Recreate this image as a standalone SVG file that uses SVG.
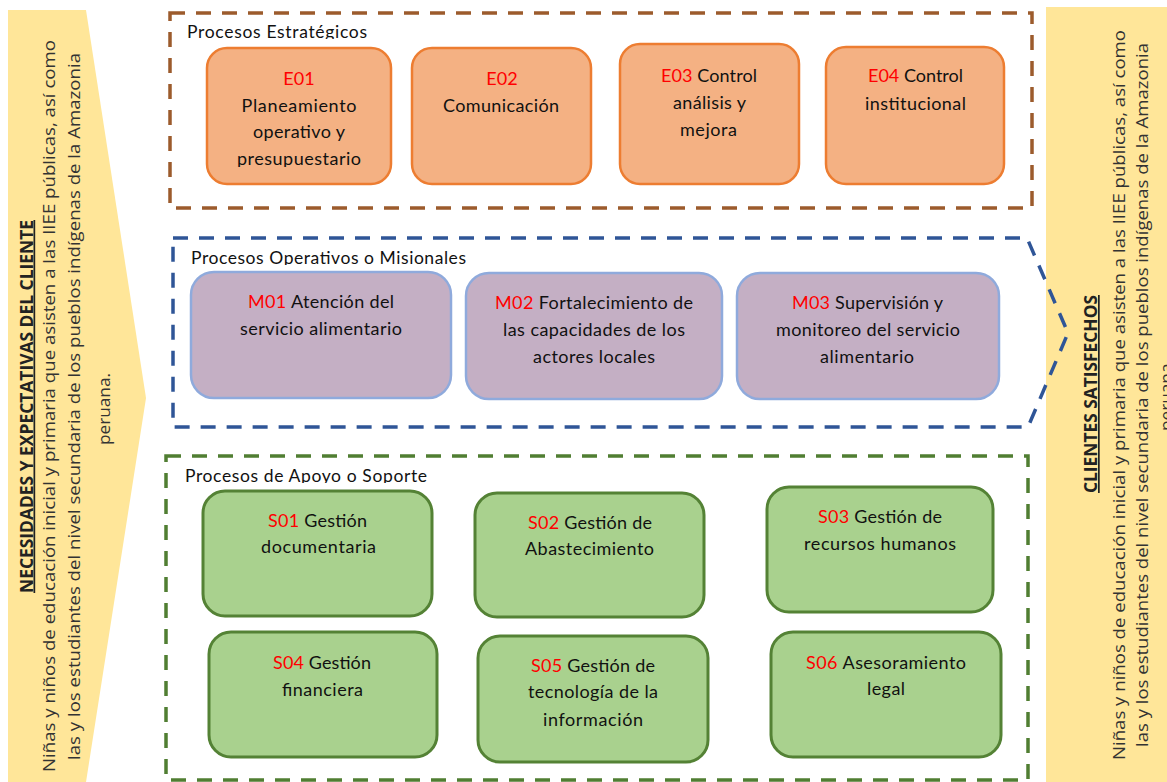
<svg xmlns="http://www.w3.org/2000/svg" width="1167" height="782" viewBox="0 0 1167 782">
<style>
.t{font-family:Lato,"Liberation Sans",sans-serif;font-size:18px;fill:#111;text-anchor:middle}
.r{fill:#FF0000}
.ttl{font-family:Lato,"Liberation Sans",sans-serif;font-size:17.5px;fill:#111}
.rot{font-family:"Open Sans","Liberation Sans",sans-serif;font-size:16px;fill:#333;text-anchor:middle}
.hd{font-family:"Open Sans","Liberation Sans",sans-serif;font-size:17px;font-weight:bold;fill:#222;text-anchor:middle;text-decoration:underline}
.sec{fill:none;stroke-width:3.5;stroke-dasharray:15 11}
.e{fill:#F4B183;stroke:#ED7D31;stroke-width:2.5}
.m{fill:#C4AFC4;stroke:#8FAADC;stroke-width:2.5}
.s{fill:#A9D18E;stroke:#548235;stroke-width:3}
</style>
<defs>
<clipPath id="c1"><rect x="180" y="15" width="300" height="24"/></clipPath>
<clipPath id="c2"><rect x="180" y="240" width="400" height="25"/></clipPath>
<clipPath id="c3"><rect x="175" y="458" width="400" height="25"/></clipPath>
<clipPath id="c4"><rect x="207" y="48" width="184" height="119"/></clipPath>
</defs>

<g id="clientes-necesidades">
<polygon points="8,10 86,10 146,398 86,782 8,782" fill="#FFE699"/>
<g transform="rotate(-90)">
<text class="hd" x="-406.5" y="32.5" textLength="373" lengthAdjust="spacingAndGlyphs">NECESIDADES Y EXPECTATIVAS DEL CLIENTE</text>
<text class="rot" x="-406" y="55" textLength="732" lengthAdjust="spacingAndGlyphs">Niñas y niños de educación inicial y primaria que asisten a las IIEE públicas, así como</text>
<text class="rot" x="-406.5" y="80" textLength="707" lengthAdjust="spacingAndGlyphs">las y los estudiantes del nivel secundaria de los pueblos indígenas de la Amazonia</text>
<text class="rot" x="-409" y="110" textLength="72" lengthAdjust="spacingAndGlyphs">peruana.</text>
</g>
</g>

<g id="clientes-satisfechos">
<rect x="1046" y="7" width="121" height="775" fill="#FFE699"/>
<g transform="rotate(-90)">
<text class="hd" x="-394" y="1097" textLength="198" lengthAdjust="spacingAndGlyphs">CLIENTES SATISFECHOS</text>
<text class="rot" x="-395" y="1125" textLength="730" lengthAdjust="spacingAndGlyphs">Niñas y niños de educación inicial y primaria que asisten a las IIEE públicas, así como</text>
<text class="rot" x="-395" y="1148" textLength="704" lengthAdjust="spacingAndGlyphs">las y los estudiantes del nivel secundaria de los pueblos indígenas de la Amazonia</text>
<text class="rot" x="-395" y="1172" textLength="72" lengthAdjust="spacingAndGlyphs">peruana.</text>
</g>
</g>

<g id="procesos-estrategicos">
<rect class="sec" x="170" y="13" width="862" height="195" stroke="#9C5B2C"/>
<text class="ttl" x="187" y="38" textLength="180" clip-path="url(#c1)">Procesos Estratégicos</text>
</g>
<g id="E01">
<rect class="e" x="207" y="48" width="184" height="136" rx="20"/>
<g clip-path="url(#c4)">
<text class="t" x="299" y="85"><tspan class="r">E01</tspan></text>
<text class="t" x="299" y="112" textLength="115">Planeamiento</text>
<text class="t" x="299" y="138" textLength="92">operativo y</text>
<text class="t" x="299" y="165" textLength="124">presupuestario</text>
</g>
</g>
<g id="E02">
<rect class="e" x="412" y="48" width="179" height="136" rx="20"/>
<text class="t" x="502" y="85"><tspan class="r">E02</tspan></text>
<text class="t" x="501" y="112" textLength="116">Comunicación</text>
</g>
<g id="E03">
<rect class="e" x="620" y="44" width="179" height="140" rx="20"/>
<text class="t" x="709" y="82" textLength="96"><tspan class="r">E03</tspan> Control</text>
<text class="t" x="709.5" y="109" textLength="73">análisis y</text>
<text class="t" x="708.5" y="136" textLength="57">mejora</text>
</g>
<g id="E04">
<rect class="e" x="826" y="47" width="178" height="137" rx="20"/>
<text class="t" x="915.5" y="82" textLength="95"><tspan class="r">E04</tspan> Control</text>
<text class="t" x="915.5" y="110" textLength="101">institucional</text>
</g>

<g id="procesos-operativos">
<path class="sec" d="M173,238 H1027 L1068,333 L1028,427 H173 Z" stroke="#2F5597"/>
<text class="ttl" x="191" y="264" textLength="275" clip-path="url(#c2)">Procesos Operativos o Misionales</text>
</g>
<g id="M01">
<rect class="m" x="191" y="272" width="260" height="126" rx="23"/>
<text class="t" x="321" y="308" textLength="146"><tspan class="r">M01</tspan> Atención del</text>
<text class="t" x="321" y="335" textLength="162">servicio alimentario</text>
</g>
<g id="M02">
<rect class="m" x="466" y="273" width="256" height="126" rx="23"/>
<text class="t" x="594" y="309" textLength="198"><tspan class="r">M02</tspan> Fortalecimiento de</text>
<text class="t" x="594" y="336" textLength="182">las capacidades de los</text>
<text class="t" x="594" y="363" textLength="122">actores locales</text>
</g>
<g id="M03">
<rect class="m" x="737" y="273" width="262" height="126" rx="23"/>
<text class="t" x="867.5" y="309" textLength="151"><tspan class="r">M03</tspan> Supervisión y</text>
<text class="t" x="868" y="336" textLength="184">monitoreo del servicio</text>
<text class="t" x="867" y="363" textLength="94">alimentario</text>
</g>

<g id="procesos-apoyo">
<rect class="sec" x="166" y="456" width="862" height="324" stroke="#507E32"/>
<text class="ttl" x="185" y="482" textLength="242" clip-path="url(#c3)">Procesos de Apoyo o Soporte</text>
</g>
<g id="S01">
<rect class="s" x="203" y="491" width="229" height="125" rx="22"/>
<text class="t" x="317.5" y="527" textLength="99"><tspan class="r">S01</tspan> Gestión</text>
<text class="t" x="318.5" y="553" textLength="115">documentaria</text>
</g>
<g id="S02">
<rect class="s" x="475" y="493" width="229" height="124" rx="22"/>
<text class="t" x="590" y="529" textLength="124"><tspan class="r">S02</tspan> Gestión de</text>
<text class="t" x="589.5" y="555" textLength="129">Abastecimiento</text>
</g>
<g id="S03">
<rect class="s" x="767" y="487" width="226" height="125" rx="22"/>
<text class="t" x="880" y="523" textLength="124"><tspan class="r">S03</tspan> Gestión de</text>
<text class="t" x="880" y="550" textLength="152">recursos humanos</text>
</g>
<g id="S04">
<rect class="s" x="209" y="632" width="228" height="125" rx="22"/>
<text class="t" x="322" y="669" textLength="98"><tspan class="r">S04</tspan> Gestión</text>
<text class="t" x="322.5" y="696" textLength="81">financiera</text>
</g>
<g id="S05">
<rect class="s" x="478" y="636" width="230" height="126" rx="22"/>
<text class="t" x="593" y="672" textLength="124"><tspan class="r">S05</tspan> Gestión de</text>
<text class="t" x="593" y="698" textLength="130">tecnología de la</text>
<text class="t" x="593" y="726" textLength="100">información</text>
</g>
<g id="S06">
<rect class="s" x="771" y="632" width="230" height="125" rx="22"/>
<text class="t" x="886" y="669" textLength="160"><tspan class="r">S06</tspan> Asesoramiento</text>
<text class="t" x="886" y="695" textLength="38">legal</text>
</g>

<g id="connectors"></g>
</svg>
